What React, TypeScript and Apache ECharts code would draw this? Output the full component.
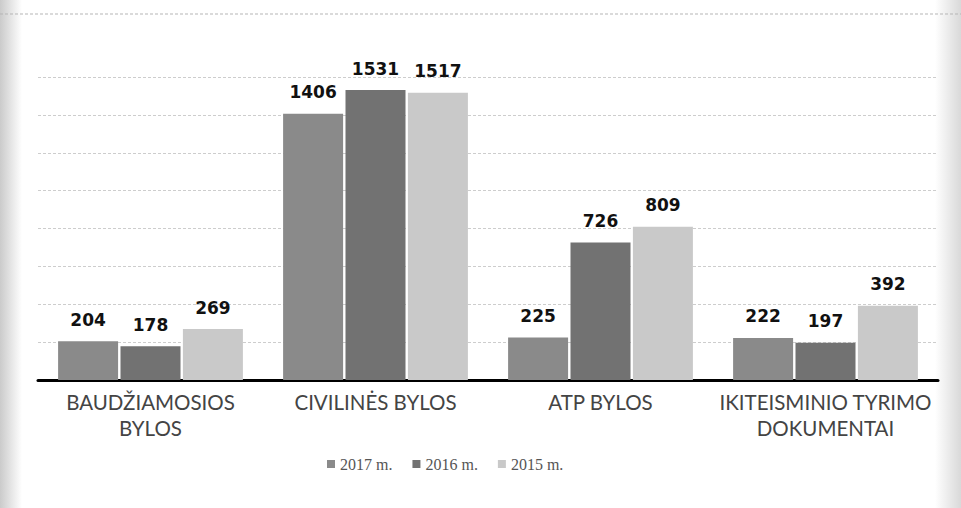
import React, { useEffect, useRef } from "react";
import * as echarts from "echarts";

const categories = ["BAUDŽIAMOSIOS\nBYLOS", "CIVILINĖS BYLOS", "ATP BYLOS", "IKITEISMINIO TYRIMO\nDOKUMENTAI"];
const seriesNames = ["2017 m.", "2016 m.", "2015 m."];
const values2017 = [204, 1406, 225, 222];
const values2016 = [178, 1531, 726, 197];
const values2015 = [269, 1517, 809, 392];
const colors = ["#8a8a8a", "#727272", "#c9c9c9"];

export default function App() {
  const ref = useRef<HTMLDivElement>(null);
  useEffect(() => {
    document.body.style.margin = "0";
    const chart = echarts.init(ref.current!, null, { renderer: "svg" });
    const data = [values2017, values2016, values2015];
    chart.setOption({
      animation: false,
      backgroundColor: "#ffffff",
      graphic: [
        {
          type: "rect",
          shape: { x: 0, y: 0, width: 22, height: 508 },
          style: {
            fill: new echarts.graphic.LinearGradient(0, 0, 1, 0, [
              { offset: 0, color: "rgba(160,160,160,0.55)" },
              { offset: 1, color: "rgba(160,160,160,0)" },
            ]),
          },
          silent: true,
          z: -10,
        },
        {
          type: "rect",
          shape: { x: 935, y: 0, width: 26, height: 508 },
          style: {
            fill: new echarts.graphic.LinearGradient(0, 0, 1, 0, [
              { offset: 0, color: "rgba(170,170,170,0)" },
              { offset: 1, color: "rgba(170,170,170,0.45)" },
            ]),
          },
          silent: true,
          z: -10,
        },
        {
          type: "line",
          shape: { x1: 0, y1: 14, x2: 961, y2: 14 },
          style: { stroke: "#b5b5b5", lineWidth: 1, lineDash: [3, 2] },
          silent: true,
        },
      ],
      grid: { left: 38, right: 23, top: 77, bottom: 128 },
      legend: {
        data: seriesNames,
        bottom: 31,
        left: 322,
        itemWidth: 8,
        itemHeight: 8,
        itemGap: 20,
        icon: "rect",
        textStyle: { fontFamily: "Liberation Serif", fontSize: 16, color: "#555" },
      },
      xAxis: {
        type: "category",
        data: categories,
        axisLine: { lineStyle: { color: "#000", width: 3 } },
        axisTick: { show: false },
        axisLabel: {
          fontFamily: "Lato, Liberation Sans, sans-serif",
          fontSize: 20.5,
          color: "#444",
          lineHeight: 26,
          margin: 9,
          interval: 0,
        },
      },
      yAxis: {
        type: "value",
        min: 0,
        max: 1600,
        interval: 200,
        axisLabel: { show: false },
        axisLine: { show: false },
        axisTick: { show: false },
        splitLine: { lineStyle: { color: "#cdcdcd", type: [3, 2], width: 1 } },
      },
      series: seriesNames.map((name, i) => ({
        name,
        type: "bar",
        data: data[i],
        barWidth: 60,
        barGap: "4%",
        itemStyle: { color: colors[i] },
        label: {
          show: true,
          position: "top",
          distance: 13,
          fontFamily: "DejaVu Sans",
          fontWeight: "bold",
          fontSize: 17,
          color: "#111",
        },
      })),
    });
    return () => chart.dispose();
  }, []);
  return <div ref={ref} style={{ width: 961, height: 508 }} />;
}
